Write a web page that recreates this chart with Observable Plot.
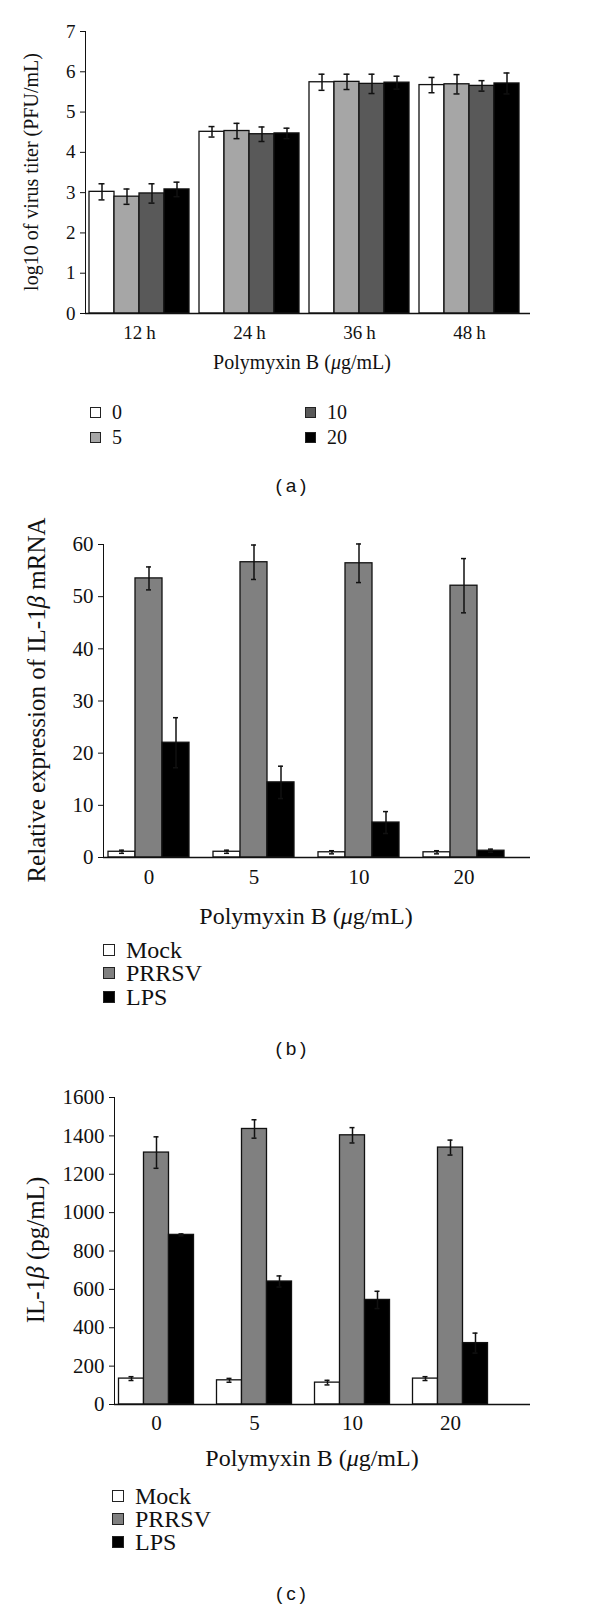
<!DOCTYPE html>
<html>
<head>
<meta charset="utf-8">
<script src="https://cdn.jsdelivr.net/npm/d3@7"></script>
<script src="https://cdn.jsdelivr.net/npm/@observablehq/plot@0.6"></script>
<style>
  html, body { margin: 0; padding: 0; background: #fff; }
  #root { position: relative; width: 600px; height: 1608px; overflow: hidden; background: #fff; }
  #root svg { position: absolute; left: 0; }
  .t { position: absolute; white-space: nowrap; font-family: "Liberation Serif", serif; color: #111; transform: translate(-50%, -50%); line-height: 1; }
  .rot { transform: translate(-50%, -50%) rotate(-90deg); }
  .cap { font-family: "Liberation Sans", Arial, sans-serif; }
  .leg { position: absolute; font-family: "Liberation Serif", serif; color: #111; white-space: nowrap; display: flex; align-items: center; transform: translateY(-50%); line-height: 1; }
  .sw { display: inline-block; box-sizing: border-box; border: 1.6px solid #222; }
</style>
</head>
<body>
<div id="root"></div>
<script>
// ---------- Panel (a) data ----------
const groupsA = ["12\u2009h", "24\u2009h", "36\u2009h", "48\u2009h"];
const seriesA = ["0", "5", "10", "20"];
const colorsA = ["#ffffff", "#a6a6a6", "#595959", "#000000"];
const valuesA0 = [3.02, 4.51, 5.74, 5.67];
const valuesA5 = [2.90, 4.53, 5.75, 5.69];
const valuesA10 = [2.98, 4.45, 5.70, 5.65];
const valuesA20 = [3.08, 4.47, 5.73, 5.71];
const errA0 = [0.20, 0.13, 0.20, 0.19];
const errA5 = [0.19, 0.19, 0.19, 0.24];
const errA10 = [0.24, 0.18, 0.24, 0.13];
const errA20 = [0.18, 0.13, 0.16, 0.26];
const ticksA = [0, 1, 2, 3, 4, 5, 6, 7];

// ---------- Panel (b) data ----------
const groupsBC = ["0", "5", "10", "20"];
const seriesBC = ["Mock", "PRRSV", "LPS"];
const colorsBC = ["#ffffff", "#808080", "#000000"];
const valuesBMock = [1.1, 1.1, 1.0, 1.0];
const valuesBPRRSV = [53.5, 56.6, 56.4, 52.1];
const valuesBLPS = [22.0, 14.4, 6.7, 1.3];
const errBMock = [0.3, 0.3, 0.3, 0.3];
const errBPRRSV = [2.2, 3.3, 3.7, 5.2];
const errBLPS = [4.8, 3.1, 2.1, 0.3];
const ticksB = [0, 10, 20, 30, 40, 50, 60];

// ---------- Panel (c) data ----------
const valuesCMock = [135, 126, 114, 135];
const valuesCPRRSV = [1313, 1436, 1403, 1339];
const valuesCLPS = [884, 641, 545, 320];
const errCMock = [10, 10, 12, 10];
const errCPRRSV = [82, 48, 40, 39];
const errCLPS = [5, 29, 45, 52];
const ticksC = [0, 200, 400, 600, 800, 1000, 1200, 1400, 1600];

const root = document.getElementById("root");

function groupedBars({groups, series, colors, values, errors, yDomain, yTicks, top, height,
                      marginTop, marginBottom, marginLeft, marginRight, xRange, barW, capW,
                      fontSize, xPad}) {
  const band = (xRange[1] - xRange[0]) / groups.length;
  const n = series.length;
  const marks = [];
  series.forEach((s, j) => {
    const rows = groups.map((g, i) => ({g, v: values[j][i], e: errors[j][i]}));
    const left = (band - n * barW) / 2 + j * barW;
    const off = left + barW / 2 - band / 2;
    marks.push(Plot.barY(rows, {x: "g", y: "v", fill: colors[j], stroke: "#111", strokeWidth: 1.3,
      insetLeft: left, insetRight: band - left - barW}));
    marks.push(Plot.ruleX(rows, {x: "g", y1: d => d.v - d.e, y2: d => d.v + d.e, dx: off,
      stroke: "#111", strokeWidth: 1.5}));
    marks.push(Plot.tickY(rows, {x: "g", y: d => d.v + d.e, dx: off, stroke: "#111", strokeWidth: 1.5,
      insetLeft: (band - capW) / 2, insetRight: (band - capW) / 2}));
    marks.push(Plot.tickY(rows, {x: "g", y: d => d.v - d.e, dx: off, stroke: "#111", strokeWidth: 1.5,
      insetLeft: (band - capW) / 2, insetRight: (band - capW) / 2}));
  });
  marks.push(Plot.ruleY([0], {stroke: "#111", strokeWidth: 1.6}));
  const svg = Plot.plot({
    width: 600, height, marginTop, marginBottom, marginLeft, marginRight,
    style: {fontFamily: "'Liberation Serif', serif", fontSize: fontSize + "px", color: "#111", background: "transparent", overflow: "visible"},
    x: {domain: groups, range: xRange, padding: 0, label: null, tickSize: 0, tickPadding: xPad},
    y: {domain: yDomain, ticks: yTicks, tickFormat: d3.format("d"), tickSize: 5, tickPadding: 5, label: null, line: true},
    marks
  });
  svg.style.top = top + "px";
  root.appendChild(svg);
}

groupedBars({
  groups: groupsA, series: seriesA, colors: colorsA,
  values: [valuesA0, valuesA5, valuesA10, valuesA20],
  errors: [errA0, errA5, errA10, errA20],
  yDomain: [0, 7], yTicks: ticksA,
  top: 0, height: 345, marginTop: 31, marginBottom: 32, marginLeft: 85, marginRight: 70,
  xRange: [84, 524], barW: 25, capW: 6, fontSize: 19, xPad: 12
});

groupedBars({
  groups: groupsBC, series: seriesBC, colors: colorsBC,
  values: [valuesBMock, valuesBPRRSV, valuesBLPS],
  errors: [errBMock, errBPRRSV, errBLPS],
  yDomain: [0, 60], yTicks: ticksB,
  top: 520, height: 377, marginTop: 24, marginBottom: 40, marginLeft: 103, marginRight: 70,
  xRange: [96, 516], barW: 27, capW: 5, fontSize: 21, xPad: 12
});

groupedBars({
  groups: groupsBC, series: seriesBC, colors: colorsBC,
  values: [valuesCMock, valuesCPRRSV, valuesCLPS],
  errors: [errCMock, errCPRRSV, errCLPS],
  yDomain: [0, 1600], yTicks: ticksC,
  top: 1075, height: 369, marginTop: 22, marginBottom: 40, marginLeft: 114, marginRight: 70,
  xRange: [107, 499], barW: 25, capW: 5, fontSize: 21, xPad: 11
});

function text(html, x, y, size, cls = "") {
  const d = document.createElement("div");
  d.className = "t " + cls;
  d.style.left = x + "px";
  d.style.top = y + "px";
  d.style.fontSize = size + "px";
  d.innerHTML = html;
  root.appendChild(d);
}
function legendItem(label, color, x, y, sq, tx, size) {
  const d = document.createElement("div");
  d.className = "leg";
  d.style.left = x + "px";
  d.style.top = y + "px";
  d.style.fontSize = size + "px";
  const s = document.createElement("span");
  s.className = "sw";
  s.style.width = sq + "px";
  s.style.height = sq + "px";
  s.style.background = color;
  s.style.marginRight = tx + "px";
  d.appendChild(s);
  const t = document.createElement("span");
  t.textContent = label;
  d.appendChild(t);
  root.appendChild(d);
}

const xTitle = "Polymyxin B (<i>\u03bc</i>g/mL)";

// Panel a texts
text("log10 of virus titer (PFU/mL)", 31, 172, 20, "rot");
text(xTitle, 302, 362, 20);
legendItem(seriesA[0], colorsA[0], 90, 412, 11, 11, 20);
legendItem(seriesA[1], colorsA[1], 90, 437, 11, 11, 20);
legendItem(seriesA[2], colorsA[2], 305, 412, 11, 11, 20);
legendItem(seriesA[3], colorsA[3], 305, 437, 11, 11, 20);
text("(&thinsp;a&thinsp;)", 291, 485, 19, "cap");

// Panel b texts
text("Relative expression of IL-1<i>\u03b2</i> mRNA", 36, 700, 25, "rot");
text(xTitle, 306, 916, 24);
seriesBC.forEach((s, j) => legendItem(s, colorsBC[j], 103, [950, 973, 997][j], 12, 11, 24));
text("(&thinsp;b&thinsp;)", 291, 1048, 19, "cap");

// Panel c texts
text("IL-1<i>\u03b2</i> (pg/mL)", 35, 1250, 25, "rot");
text(xTitle, 312, 1458, 24);
seriesBC.forEach((s, j) => legendItem(s, colorsBC[j], 112, [1496, 1519, 1542][j], 12, 11, 24));
text("(&thinsp;c&thinsp;)", 291, 1593, 19, "cap");
</script>
</body>
</html>
